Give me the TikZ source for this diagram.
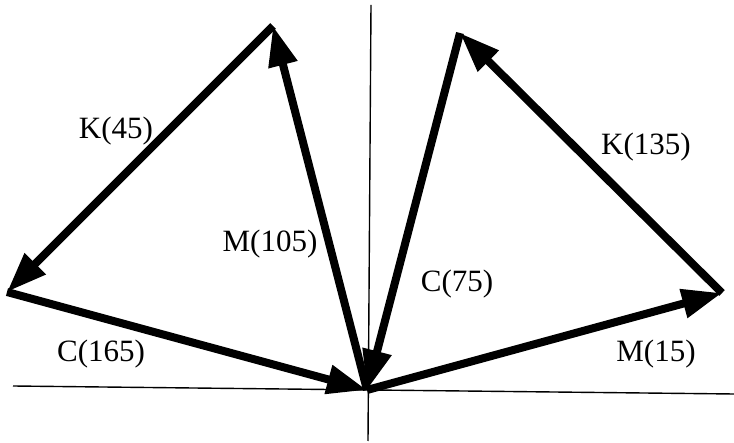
\documentclass[tikz,border=0pt]{standalone}
\usepackage{fontspec}
\setmainfont{Liberation Serif}
\usetikzlibrary{arrows.meta}
\begin{document}
\begin{tikzpicture}[x=1pt,y=-1pt,
  axis/.style={line width=1.4pt,black},
  vec/.style={line width=8pt,black,-{Triangle[length=40pt,width=28pt]}},
  lbl/.style={font=\fontsize{31}{33}\selectfont,anchor=base,inner sep=0pt}]
\useasboundingbox (0,0) rectangle (734,443);
% axes
\coordinate (hl) at (13,386);
\coordinate (hr) at (734,394);
\coordinate (vt) at (371,5);
\coordinate (vb) at (368,441);
\draw[axis] (hl) -- (hr);
\draw[axis] (vt) -- (vb);
% points
\coordinate (O) at (367,390);
\coordinate (A) at (7,292);
\coordinate (B) at (273,26);
\coordinate (Ct) at (460,33);
\coordinate (D) at (722,293);
% vectors
\draw[vec] (O) -- (D);
\draw[vec] (D) -- (Ct);
\draw[vec] (Ct) -- (O);
\draw[vec] (O) -- (B);
\draw[vec] (B) -- (A);
\draw[vec] (A) -- (O);
% labels
\node[lbl] (lk45) at (116,139) {K(45)};
\node[lbl] (lm105) at (270,252) {M(105)};
\node[lbl] (lc165) at (101,362) {C(165)};
\node[lbl] (lc75) at (457,292) {C(75)};
\node[lbl] (lk135) at (646,155) {K(135)};
\node[lbl] (lm15) at (656,362) {M(15)};
\end{tikzpicture}
\end{document}
